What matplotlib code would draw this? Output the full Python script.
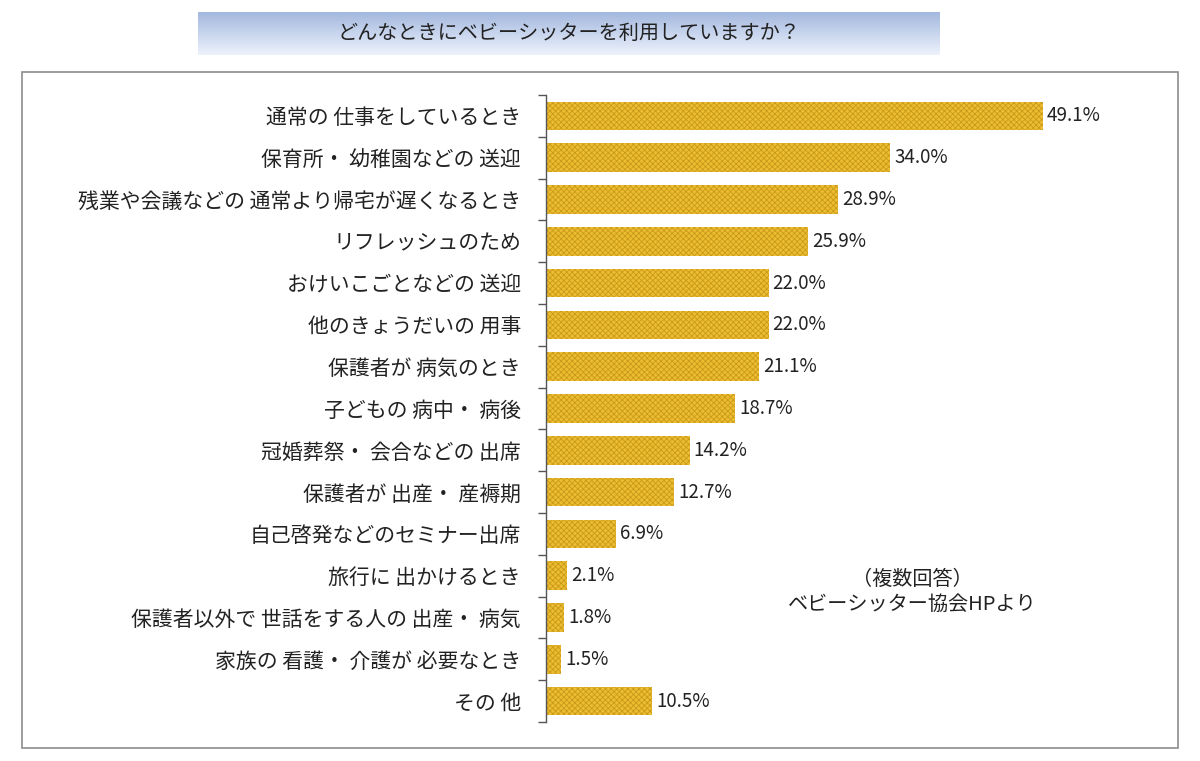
import matplotlib.pyplot as plt
import numpy as np
from matplotlib.patches import Rectangle

plt.rcParams['font.family'] = ['Noto Sans CJK JP', 'DejaVu Sans']
plt.rcParams['hatch.linewidth'] = 0.6

# data (top to bottom)
categories = [
    '通常の 仕事をしているとき',
    '保育所・ 幼稚園などの 送迎',
    '残業や会議などの 通常より帰宅が遅くなるとき',
    'リフレッシュのため',
    'おけいこごとなどの 送迎',
    '他のきょうだいの 用事',
    '保護者が 病気のとき',
    '子どもの 病中・ 病後',
    '冠婚葬祭・ 会合などの 出席',
    '保護者が 出産・ 産褥期',
    '自己啓発などのセミナー出席',
    '旅行に 出かけるとき',
    '保護者以外で 世話をする人の 出産・ 病気',
    '家族の 看護・ 介護が 必要なとき',
    'その 他',
]
values = [49.1, 34.0, 28.9, 25.9, 22.0, 22.0, 21.1, 18.7, 14.2, 12.7, 6.9, 2.1, 1.8, 1.5, 10.5]
title = 'どんなときにベビーシッターを利用していますか？'
note = '（複数回答）\nベビーシッター協会HPより'

fig = plt.figure(figsize=(12, 7.61), dpi=100)
fig.patch.set_facecolor('white')

# outer frame
fig.patches.append(Rectangle((22 / 1200, 1 - 748 / 761), 1156 / 1200, 676 / 761,
                             transform=fig.transFigure, fill=False,
                             edgecolor='#8c8c8c', linewidth=1.2))

# title box with vertical gradient
tax = fig.add_axes([198 / 1200, 1 - 55 / 761, 742 / 1200, 43 / 761])
grad = np.linspace(0, 1, 100).reshape(-1, 1)
top = np.array([0.64, 0.72, 0.87])
bot = np.array([0.93, 0.95, 0.99])
img = top + (bot - top) * grad[..., None]
tax.imshow(img, aspect='auto', extent=[0, 1, 0, 1], origin='upper')
tax.set_xlim(0, 1)
tax.set_ylim(0, 1)
tax.axis('off')
tax.text(0.5, 0.5, title, ha='center', va='center', fontsize=14.5, color='#222222')

ax = fig.add_axes([546 / 1200, 1 - 722 / 761, 604 / 1200, 627 / 761])
y = np.arange(len(values))
ax.barh(y, values, height=0.68, color='#ECBD30', edgecolor='#C99A1A',
        hatch='xxxxxx', linewidth=0)
ax.set_xlim(0, 59.7)
ax.set_ylim(len(values) - 0.5, -0.5)

for yi, v in zip(y, values):
    ax.text(v + 0.4, yi, f'{v:.1f}%', va='center', ha='left', fontsize=13.5, color='#222222')

ax.set_yticks(y)
ax.set_yticklabels(categories, fontsize=15, color='#222222')
ax.tick_params(axis='y', which='major', length=0, pad=18)
ax.set_yticks(np.arange(len(values) + 1) - 0.5, minor=True)
ax.tick_params(axis='y', which='minor', length=6, width=1, color='#555555', direction='out')
ax.set_xticks([])
for s in ['top', 'right', 'bottom']:
    ax.spines[s].set_visible(False)
ax.spines['left'].set_color('#555555')
ax.spines['left'].set_linewidth(1)

fig.text(912 / 1200, 1 - 592 / 761, note, ha='center', va='center', fontsize=14.5,
         color='#222222', linespacing=1.3)

fig.savefig('out.png', dpi=100)
